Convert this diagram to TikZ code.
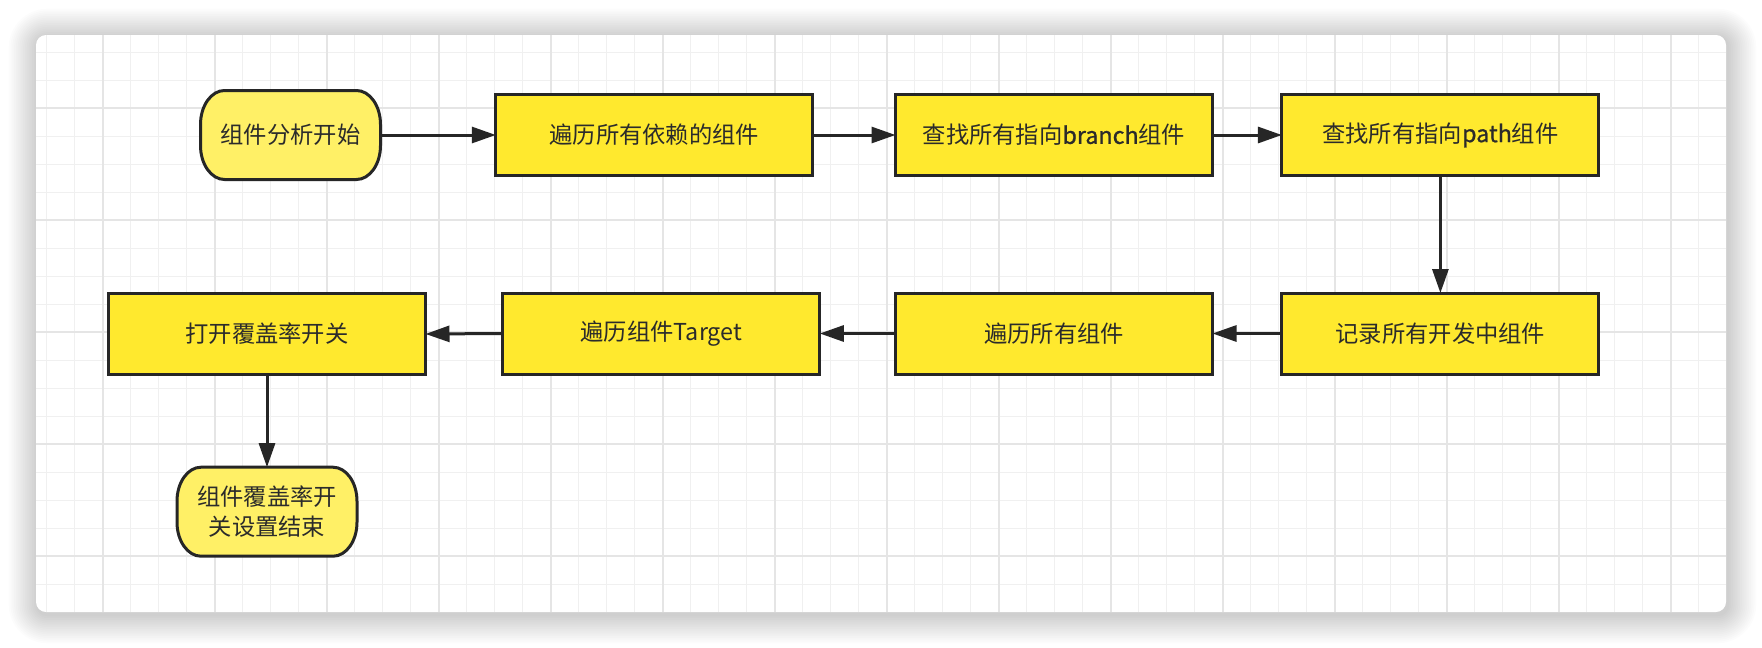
\documentclass[tikz,border=0pt]{standalone}
\usepackage{fontspec}
\setmainfont{Noto Sans CJK SC}
\newfontfamily\semibfont[FakeBold=0.8]{Noto Sans CJK SC}
\usetikzlibrary{arrows.meta}
\definecolor{boxfill}{HTML}{FFE92E}
\definecolor{termfill}{HTML}{FFF066}
\definecolor{edgecol}{HTML}{262626}
\definecolor{txtcol}{HTML}{2B2B2B}
\definecolor{gridminor}{HTML}{F0F0F0}
\definecolor{gridmajor}{HTML}{E5E5E5}
\pgfdeclarelayer{back}
\pgfdeclarelayer{shapes}
\pgfsetlayers{back,shapes,main}
\newcommand\termborder[1]{%
  \path[termline] ([xshift=24pt]#1.north west) -- ([xshift=-24pt]#1.north east)
   arc[start angle=90,end angle=0,x radius=24pt,y radius=34pt]
   -- ([yshift=34pt]#1.south east)
   arc[start angle=0,end angle=-90,x radius=24pt,y radius=34pt]
   -- ([xshift=24pt]#1.south west)
   arc[start angle=-90,end angle=-180,x radius=24pt,y radius=34pt]
   -- ([yshift=-34pt]#1.north west)
   arc[start angle=180,end angle=90,x radius=24pt,y radius=34pt]
   -- cycle;}
\begin{document}
\begin{tikzpicture}[x=1pt,y=-1pt,
  font=\fontsize{23.3pt}{30pt}\selectfont, text=txtcol,
  box/.style={draw=edgecol, line width=3pt, fill=boxfill, minimum width=317pt,
    minimum height=81pt, inner sep=0pt, outer sep=0pt, align=center},
  term/.style={minimum width=180pt, minimum height=89pt, inner sep=0pt,
    outer sep=0pt, align=center},
  termline/.style={draw=edgecol, line width=3pt, fill=termfill},
  flow/.style={draw=edgecol, line width=3pt, -{Triangle[length=24pt,width=16pt]}},
  minorline/.style={draw=gridminor, line width=1.5pt},
  majorline/.style={draw=gridmajor, line width=2pt}]
\useasboundingbox (0,0) rectangle (1762,648);
\begin{pgfonlayer}{back}
  \fill[white] (0,0) rectangle (1762,648);
  \foreach \s in {1,...,16}{
    \pgfmathsetmacro\rr{10+1.8*\s}
    \fill[black, opacity=0.012, rounded corners=\rr pt]
      (36-1.8*\s+1.5, 35-1.8*\s+2.5) rectangle (1726+1.8*\s+1.5, 612+1.8*\s+2.5);
  }
  \fill[white, rounded corners=10pt] (36,35) rectangle (1726,612);
  \begin{scope}
    \clip[rounded corners=10pt] (36,35) rectangle (1726,612);
    \foreach \i in {0,...,59} \draw[minorline] (46.6+28*\i,35) -- (46.6+28*\i,612);
    \foreach \j in {0,...,19} \draw[minorline] (36,52.3+28*\j) -- (1726,52.3+28*\j);
    \foreach \i in {0,...,14} \draw[majorline] (102.6+112*\i,35) -- (102.6+112*\i,612);
    \foreach \j in {0,...,4} \draw[majorline] (36,108.3+112*\j) -- (1726,108.3+112*\j);
  \end{scope}
\end{pgfonlayer}

\node[term] (start) at (290.5,135) {组件分析开始};
\node[box] (n1) at (654.3,135) {遍历所有依赖的组件};
\node[box] (n2) at (1054,135) {查找所有指向{\semibfont branch}组件};
\node[box] (n3) at (1440.4,135) {查找所有指向{\semibfont path}组件};
\node[box] (n4) at (1440.4,333.5) {记录所有开发中组件};
\node[box] (n5) at (1054,333.5) {遍历所有组件};
\node[box] (n6) at (661.3,333.5) {遍历组件Target};
\node[box] (n7) at (267,334) {打开覆盖率开关};
\node[term] (end) at (267,511.7) {组件覆盖率开\\关设置结束};

\begin{pgfonlayer}{shapes}
  \termborder{start}
  \termborder{end}
\end{pgfonlayer}

\draw[flow] (start.east) -- (n1.west);
\draw[flow] (n1.east) -- (n2.west);
\draw[flow] (n2.east) -- (n3.west);
\draw[flow] (n3.south) -- (n4.north);
\draw[flow] (n4.west) -- (n5.east);
\draw[flow] (n5.west) -- (n6.east);
\draw[flow] (n6.west) -- (n7.east);
\draw[flow] (n7.south) -- (end.north);
\end{tikzpicture}
\end{document}
